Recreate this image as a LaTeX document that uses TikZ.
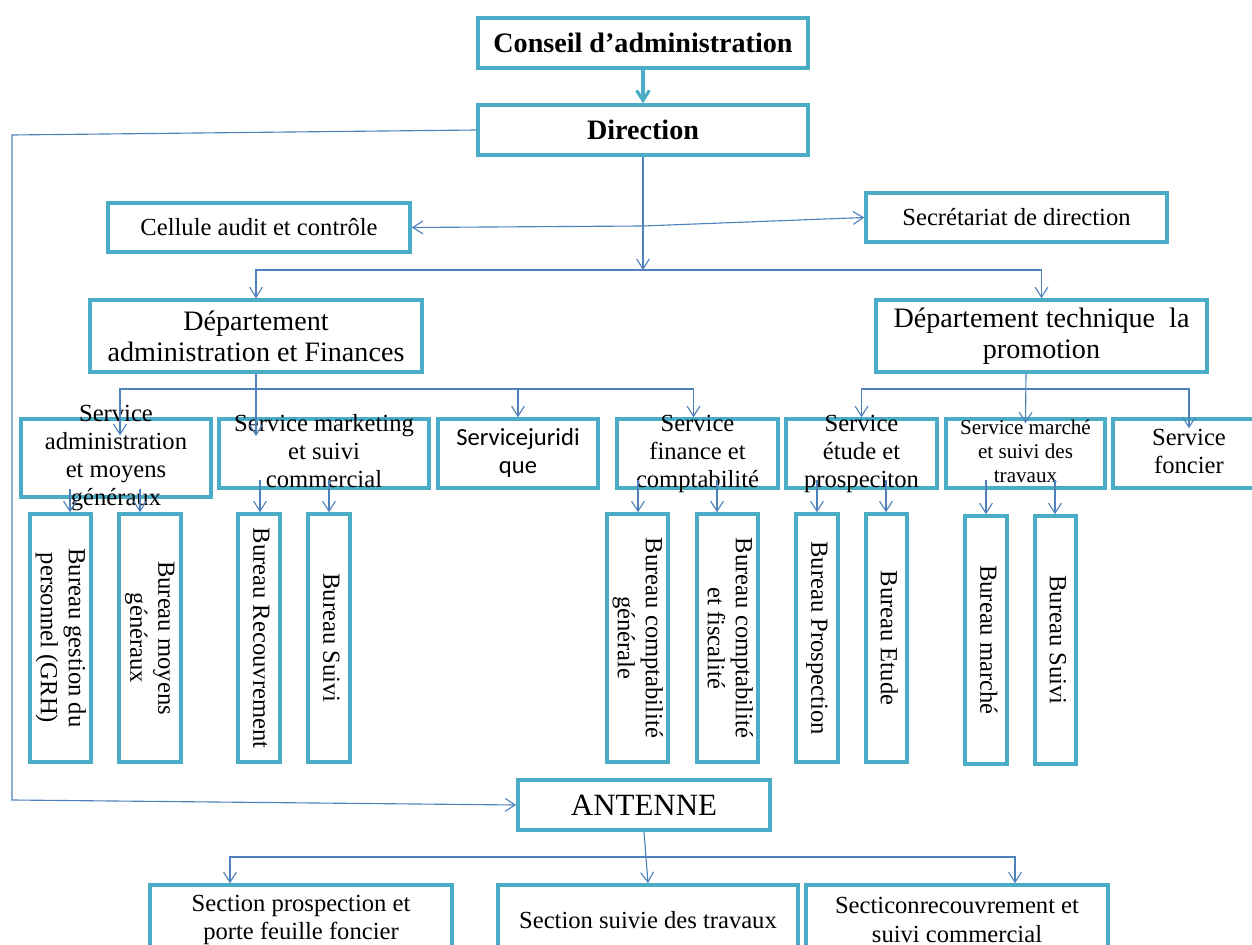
\documentclass[tikz,border=0pt]{standalone}
\usepackage{fontspec}
\usepackage{graphicx}
\setmainfont{Liberation Serif}
\newfontfamily\calfont{Carlito}
\usetikzlibrary{arrows.meta, calc}
\definecolor{boxteal}{RGB}{75,172,198}
\definecolor{linkblue}{RGB}{79,129,189}
\newcommand\txtsize{\fontsize{17.5}{20}\selectfont}
\newcommand\bigsize{\fontsize{20}{22}\selectfont}
\newcommand\smallsize{\fontsize{15}{16.8}\selectfont}
%text that may run out of its box:
\newcommand\stack[1]{\smash{\raisebox{-.25em}{\begin{tabular}{@{}c@{}}#1\end{tabular}}}}
%text read from top to bottom:
\newcommand\vstack[1]{\rotatebox[origin=c]{-90}{\begin{tabular}{@{}c@{}}#1\end{tabular}}}
\tikzset{box/.style={draw=boxteal, line width=2.5pt, fill=white, inner sep=0pt, align=center, font=\txtsize},
    bureau/.style={box, minimum height=6.2cm},
    link/.style={draw=linkblue, line width=0.8pt, -{Straight Barb[length=2.5mm, width=3.2mm]}},
}

\begin{document}
\begin{tikzpicture}[x=0.025cm, y=-0.025cm]
                    \useasboundingbox (0,0) rectangle (1252,945);
                    \clip (0,0) rectangle (1252,945);
                    %Top of the chart:
                    \node[box, font=\bfseries\bigsize, minimum width=8.25cm, minimum height=1.25cm] (conseil) at (643,43) {Conseil d’administration};
                    \node[box, font=\bfseries\bigsize, minimum width=8.25cm, minimum height=1.25cm] (direction) at (643,130) {Direction};
                    \node[box, minimum width=7.55cm, minimum height=1.225cm] (audit) at (259,227.5) {Cellule audit et contrôle};
                    \node[box, minimum width=7.525cm, minimum height=1.225cm] (secretariat) at (1016.5,217.5) {Secrétariat de direction};
                    %Departments:
                    \node[box, font=\bigsize, minimum width=8.3cm, minimum height=1.8cm] (dpadmin) at (256,336) {Département\\administration et Finances};
                    \node[box, font=\bigsize, minimum width=8.275cm, minimum height=1.8cm] (dptech) at (1041.5,336) {Département technique\ \ la\\promotion};
                    %Services:
                        \node[box, minimum width=4.75cm, minimum height=1.95cm] (svadmin) at (116,458) {\stack{Service\\administration\\et moyens\\généraux}};
                        \node[box, minimum width=5.25cm, minimum height=1.725cm] (svmarket) at (324,453.5) {\stack{Service marketing\\et suivi\\commercial}};
                        \node[box, font=\calfont\txtsize, minimum width=4cm, minimum height=1.725cm] (svjur) at (518,453.5) {\stack{Servicejuridi\\que}};
                        \node[box, minimum width=4.025cm, minimum height=1.725cm] (svfin) at (697.5,453.5) {\stack{Service\\finance et\\comptabilité}};
                        \node[box, minimum width=3.775cm, minimum height=1.725cm] (svetude) at (861.5,453.5) {\stack{Service\\étude et\\prospeciton}};
                        \node[box, font=\smallsize, minimum width=3.975cm, minimum height=1.725cm] (svmarche) at (1025.5,453.5) {\stack{Service marché\\et suivi des\\travaux}};
                        \node[box, minimum width=3.8cm, minimum height=1.725cm] (svfoncier) at (1189,453.5) {\stack{Service\\foncier}};
                    %Bureaus:
                        \node[bureau, minimum width=1.525cm] (b1) at (60.5,638) {\vstack{Bureau gestion du\\personnel (GRH)}};
                        \node[bureau, minimum width=1.55cm] (b2) at (150,638) {\vstack{Bureau moyens\\généraux}};
                        \node[bureau, minimum width=1.05cm] (b3) at (259,638) {\vstack{Bureau Recouvrement}};
                        \node[bureau, minimum width=1.05cm] (b4) at (329,638) {\vstack{Bureau Suivi}};
                        \node[bureau, minimum width=1.525cm] (b5) at (637.5,638) {\vstack{Bureau comptabilité\\générale}};
                        \node[bureau, minimum width=1.525cm] (b6) at (727.5,638) {\vstack{Bureau comptabilité\\et fiscalité}};
                        \node[bureau, minimum width=1.05cm] (b7) at (817,638) {\vstack{Bureau Prospection}};
                        \node[bureau, minimum width=1.025cm] (b8) at (886.5,638) {\vstack{Bureau Etude}};
                        \node[bureau, minimum width=1.05cm] (b9) at (986,640) {\vstack{Bureau marché}};
                        \node[bureau, minimum width=1.025cm] (b10) at (1055.5,640) {\vstack{Bureau Suivi}};
                    %Antenne and its sections:
                    \node[box, font=\fontsize{22}{24}\selectfont, minimum width=6.3cm, minimum height=1.25cm] (antenne) at (644,805) {ANTENNE};
                    \node[box, font=\fontsize{17.5}{20.5}\selectfont, minimum width=7.55cm, minimum height=1.75cm] (secprosp) at (301,920) {Section prospection et\\porte feuille foncier};
                    \node[box, minimum width=7.5cm, minimum height=1.75cm] (secsuivi) at (648,920) {Section suivie des travaux};
                    \node[box, font=\fontsize{17.5}{20.5}\selectfont, minimum width=7.55cm, minimum height=1.75cm] (secrecouv) at (957,920) {Secticonrecouvrement et\\suivi commercial};
                    %Links from the top:
                    \draw[link, draw=boxteal, line width=2.2pt] (conseil) -- (direction);
                    \coordinate (fork) at (643,226);
                    \coordinate (bus1) at (643,270);
                    \draw[link] (direction.south) -- (bus1);
                    \draw[link] (fork) -- (audit.east);
                    \draw[link] (fork) -- (secretariat.west);
                    \draw[link] (bus1) -| (dpadmin.north);
                    \draw[link] (bus1) -| (dptech.north);
                    \draw[link] (direction.west) -- (12,135) -- (12,800) -- (antenne.west);
                    %Links under the departments:
                    \coordinate (bus2) at (256,389);
                    \draw[link] (dpadmin.south) -- (dpadmin.south |- 0,436);
                    \draw[link] (bus2) -| ([xshift=0.1cm, yshift=-0.45cm]svadmin.north);
                    \draw[link] (bus2) -| (svjur.north);
                    \draw[link] (bus2) -| ([xshift=-0.1cm]svfin.north);
                    \coordinate (bus3) at (1026,389);
                    \draw[link] (dptech.south -| bus3) -- ([yshift=-0.15cm]svmarche.north);
                    \draw[link] (bus3) -| (svetude.north);
                    \draw[link] (bus3) -| ([yshift=-0.275cm]svfoncier.north);
                    %Links from services to bureaus:
                    \foreach \sv/\b/\x in {svadmin/b1/70, svadmin/b2/140, svmarket/b3/260, svmarket/b4/329, svfin/b5/638,
                        svfin/b6/717, svetude/b7/817, svetude/b8/886, svmarche/b9/986, svmarche/b10/1055}
                        \draw[link] ($(\sv.south -| \x,0)+(0,-10)$) -- (\b.north -| \x,0);
                    %Links under the antenne:
                    \coordinate (bus4) at (646,857);
                    \draw[link] (antenne.south) -- (secsuivi.north);
                    \draw[link] (bus4) -| ([xshift=-1.775cm]secprosp.north);
                    \draw[link] (bus4) -| ([xshift=1.45cm]secrecouv.north);
\end{tikzpicture}
\end{document}
